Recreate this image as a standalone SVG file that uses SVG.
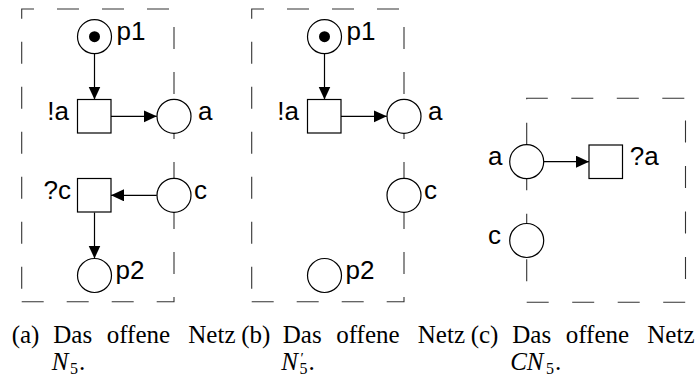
<svg xmlns="http://www.w3.org/2000/svg" width="698" height="379" viewBox="0 0 698 379">
  <style>
    .frame { fill: none; stroke: #333; stroke-width: 1.1; stroke-dasharray: 22 23; }
    .place { fill: #fff; stroke: #000; stroke-width: 1.2; }
    .trans { fill: #fff; stroke: #000; stroke-width: 1.2; }
    .token { fill: #000; }
    .arc { fill: none; stroke: #000; stroke-width: 1.2; marker-end: url(#head); }
    .lbl { font-family: "Liberation Sans", Arial, sans-serif; font-size: 26px; fill: #000; }
    .end { text-anchor: end; }
    .cap { font-family: "Liberation Serif", "Times New Roman", serif; font-size: 25px; fill: #000; }
    .math { font-style: italic; }
    .sub { font-size: 16px; }
    .prime { font-size: 15px; }
  </style>
  <defs>
    <marker id="head" markerUnits="userSpaceOnUse" markerWidth="14" markerHeight="13" refX="13" refY="6" orient="auto">
      <path d="M0,0 L13,6 L0,12 Z" fill="#000"/>
    </marker>
  </defs>

  <rect width="698" height="379" fill="#fff"/>

  <!-- interface frames (dashed) -->
  <g id="frames">
    <path class="frame" d="M21.7,301.7 H174 V9 H21.7 V301.7"/>
    <path class="frame" d="M251.7,301.7 H404 V9 H251.7 V301.7"/>
    <path class="frame" style="stroke-dasharray: 22 23.5" d="M526.7,302.3 H685.5 V98.3 H526.7 V302.3"/>
  </g>

  <!-- arcs -->
  <g id="connectors">
    <line class="arc" x1="94.5" y1="53.7" x2="94.5" y2="99.5"/>
    <line class="arc" x1="111" y1="116.3" x2="156.8" y2="116.3"/>
    <line class="arc" x1="156.8" y1="195.3" x2="111" y2="195.3"/>
    <line class="arc" x1="94.5" y1="212.5" x2="94.5" y2="258.5"/>
    <line class="arc" x1="324.5" y1="53.7" x2="324.5" y2="99.5"/>
    <line class="arc" x1="341" y1="116.3" x2="386.8" y2="116.3"/>
    <line class="arc" x1="543.7" y1="161.7" x2="589" y2="161.7"/>
  </g>

  <!-- (a) open net N5 -->
  <g id="a-p1"><circle class="place" cx="94.5" cy="36.7" r="17"/><circle class="token" cx="94.5" cy="36.7" r="5.5"/><text class="lbl" x="116.6" y="40">p1</text></g>
  <g id="a-ta"><rect class="trans" x="77.5" y="99.5" width="33.5" height="33.5"/><text class="lbl end" x="69" y="119.5">!a</text></g>
  <g id="a-a"><circle class="place" cx="174" cy="116.3" r="17"/><text class="lbl" x="198" y="119.5">a</text></g>
  <g id="a-tc"><rect class="trans" x="77.5" y="178.5" width="33.5" height="33.5"/><text class="lbl end" x="71" y="199">?c</text></g>
  <g id="a-c"><circle class="place" cx="174" cy="195.3" r="17"/><text class="lbl" x="194" y="199">c</text></g>
  <g id="a-p2"><circle class="place" cx="94.5" cy="275.5" r="17"/><text class="lbl" x="115.6" y="278.5">p2</text></g>

  <!-- (b) open net N5' -->
  <g id="b-p1"><circle class="place" cx="324.5" cy="36.7" r="17"/><circle class="token" cx="324.5" cy="36.7" r="5.5"/><text class="lbl" x="346.6" y="40">p1</text></g>
  <g id="b-ta"><rect class="trans" x="307.5" y="99.5" width="33.5" height="33.5"/><text class="lbl end" x="299" y="119.5">!a</text></g>
  <g id="b-a"><circle class="place" cx="404" cy="116.3" r="17"/><text class="lbl" x="428" y="119.5">a</text></g>
  <g id="b-c"><circle class="place" cx="404" cy="195.3" r="17"/><text class="lbl" x="424" y="199">c</text></g>
  <g id="b-p2"><circle class="place" cx="324.5" cy="275.5" r="17"/><text class="lbl" x="345.6" y="278.5">p2</text></g>

  <!-- (c) open net CN5 -->
  <g id="c-a"><circle class="place" cx="526.7" cy="161.7" r="17"/><text class="lbl end" x="502.5" y="165">a</text></g>
  <g id="c-ta"><rect class="trans" x="589" y="145" width="33.5" height="33.5"/><text class="lbl" x="629.7" y="165">?a</text></g>
  <g id="c-c"><circle class="place" cx="526.7" cy="240.5" r="17"/><text class="lbl end" x="501" y="243.5">c</text></g>

  <!-- sub-figure captions -->
  <g id="captions" class="cap">
    <text y="343.3"><tspan x="11.7">(a)</tspan><tspan x="53.3">Das</tspan><tspan x="106.7">offene</tspan><tspan x="188.3">Netz</tspan></text>
    <text y="370"><tspan x="51.7" class="math">N</tspan><tspan x="70" dy="4" class="sub">5</tspan><tspan x="79" dy="-4">.</tspan></text>

    <text y="343.3"><tspan x="241.2">(b)</tspan><tspan x="282.8">Das</tspan><tspan x="336.2">offene</tspan><tspan x="417.8">Netz</tspan></text>
    <text y="370"><tspan x="281.2" class="math">N</tspan><tspan x="300.5" dy="-7" class="prime">′</tspan><tspan x="299.5" dy="11" class="sub">5</tspan><tspan x="308.5" dy="-4">.</tspan></text>

    <text y="343.3"><tspan x="470.7">(c)</tspan><tspan x="512.3">Das</tspan><tspan x="565.7">offene</tspan><tspan x="647.3">Netz</tspan></text>
    <text y="370"><tspan x="510.2" class="math">CN</tspan><tspan x="546" dy="4" class="sub">5</tspan><tspan x="555" dy="-4">.</tspan></text>
  </g>
</svg>
